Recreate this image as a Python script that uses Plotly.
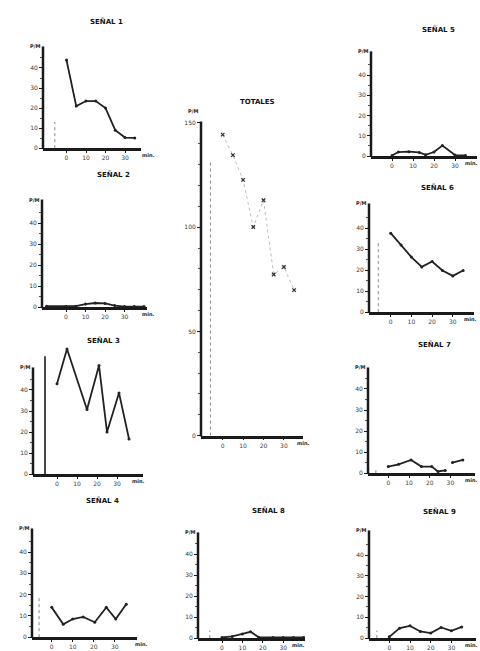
import plotly.graph_objects as go

W, H = 480, 651

# ---------------- data ----------------
titles = ["SEÑAL 1", "SEÑAL 2", "SEÑAL 3", "SEÑAL 4", "TOTALES",
          "SEÑAL 5", "SEÑAL 6", "SEÑAL 7", "SEÑAL 8", "SEÑAL 9"]

t_std = [0, 5, 10, 15, 20, 25, 30, 35]

s1_x = t_std
s1_y = [44, 21, 23.5, 23.5, 20, 9, 5.3, 5.1]

s2_x = [-10, 0, 5, 10, 15, 20, 25, 30, 35, 40]
s2_y = [0.5, 0.3, 0.5, 1.5, 2.0, 1.8, 0.8, 0.3, 0.3, 0.3]

s3_x = [0, 5, 15, 21, 25, 31, 36]
s3_y = [43, 59.5, 30.7, 51.6, 20, 38.6, 16.7]

s4_x = [0, 5.5, 10, 15, 20.5, 26, 30.5, 35.5]
s4_y = [14, 6, 8.5, 9.5, 7, 14, 8.5, 15.5]

tot_x = t_std
tot_y = [144.4, 134.6, 122.7, 100.1, 112.9, 77.3, 80.9, 69.8]

s5_x = [0, 3, 8, 13, 16, 20, 24, 30, 35]
s5_y = [0.3, 2.0, 2.2, 1.8, 0.6, 2.0, 5.2, 0.5, 0.3]

s6_x = t_std
s6_y = [37.7, 32.1, 26.3, 21.6, 24.2, 19.9, 17.3, 19.9]

s7_x = [0, 5, 11, 16, 21, 24, 27.5, 29, 31, 36]
s7_y = [3.1, 4.2, 6.3, 3.1, 3.1, 0.8, 1.3, None, 5.0, 6.3]

s8_x = [0, 5, 10, 14, 18, 25, 30, 35, 40]
s8_y = [0.3, 0.8, 2.0, 3.0, 0.4, 0.3, 0.3, 0.3, 0.3]

s9_x = t_std
s9_y = [0.6, 4.8, 5.9, 3.2, 2.4, 5.1, 3.5, 5.4]

series_x = [s1_x, s2_x, s3_x, s4_x, tot_x, s5_x, s6_x, s7_x, s8_x, s9_x]
series_y = [s1_y, s2_y, s3_y, s4_y, tot_y, s5_y, s6_y, s7_y, s8_y, s9_y]

# reference (start) marker: time and height per panel (None = not drawn)
ref_t = -6
ref_h = [13, None, 56, 19, 131, None, 34, 2.5, 3.6, 3.6]

y_ticks_small = [0, 10, 20, 30, 40]
y_minor_small = [5, 15, 25, 35, 45]
y_ticks_total = [0, 50, 100, 150]
y_minor_total = [10, 20, 30, 40, 60, 70, 80, 90, 110, 120, 130, 140]
x_ticks = [0, 10, 20, 30]

# ---------------- layout geometry (pixels) ----------------
# L,R: x-axis extent; X0: pixel of t=0; sx: px/min; B: x-axis pixel row;
# T: plot top; sy: px/unit; LT: top of drawn y-axis line; PY: P/M label row;
# MX: "min." label centre; tx,ty: title centre
geo = [
    dict(L=43, R=141, X0=66.5, sx=1.95, B=148, T=45, sy=2.03, LT=45, PY=45, MX=148, tx=106, ty=20),
    dict(L=42, R=147, X0=66, sx=1.95, B=309, T=200, sy=2.13, LT=200, PY=200, MX=148, tx=113, ty=175),
    dict(L=33, R=143, X0=57, sx=2.0, B=478, T=346, sy=2.13, LT=370, PY=370, MX=138, tx=103, ty=343),
    dict(L=32, R=137, X0=51.7, sx=2.1, B=643, T=533, sy=2.15, LT=533, PY=533, MX=141, tx=102, ty=505),
    dict(L=201, R=303, X0=222.7, sx=2.04, B=439, T=121, sy=2.11, LT=121, PY=110, MX=303, tx=257, ty=101),
    dict(L=371, R=477, X0=392, sx=2.1, B=156, T=50, sy=2.05, LT=50, PY=50, MX=471, tx=438, ty=28),
    dict(L=369, R=474, X0=390.7, sx=2.07, B=314, T=204, sy=2.12, LT=204, PY=204, MX=470, tx=437, ty=188),
    dict(L=368, R=475, X0=388.3, sx=2.07, B=477, T=370, sy=2.13, LT=370, PY=370, MX=471, tx=434, ty=347),
    dict(L=198, R=305, X0=222, sx=2.04, B=644, T=537, sy=2.12, LT=537, PY=537, MX=298, tx=268, ty=515),
    dict(L=369, R=476, X0=389.3, sx=2.07, B=644, T=535, sy=2.1, LT=535, PY=535, MX=471, tx=439, ty=516),
]

FONT = "DejaVu Sans"
INK = "#1a1a1a"

fig = go.Figure()
layout = {}
shapes = []
annotations = []

for i, g in enumerate(geo):
    k = i + 1
    xn = "xaxis" if k == 1 else f"xaxis{k}"
    yn = "yaxis" if k == 1 else f"yaxis{k}"
    xr = f"x{k}" if k > 1 else "x"
    yr = f"y{k}" if k > 1 else "y"
    is_tot = titles[i] == "TOTALES"

    xrange = [(g["L"] - g["X0"]) / g["sx"], (g["R"] - g["X0"]) / g["sx"]]
    yrange = [0, (g["B"] - g["T"]) / g["sy"]]

    layout[xn] = dict(
        domain=[g["L"] / W, g["R"] / W], range=xrange, anchor=yr,
        showgrid=False, zeroline=False, showline=True, linecolor=INK, linewidth=2.5,
        ticks="outside", ticklen=2, tickwidth=1, tickcolor=INK,
        tickvals=x_ticks, ticktext=[str(v) for v in x_ticks],
        tickfont=dict(family=FONT, size=6, color="#444"), fixedrange=True,
    )
    yt = y_ticks_total if is_tot else y_ticks_small
    ym = y_minor_total if is_tot else y_minor_small
    layout[yn] = dict(
        domain=[1 - g["B"] / H, 1 - g["T"] / H], range=yrange, anchor=xr,
        showgrid=False, zeroline=False, showline=False,
        ticks="outside", ticklen=3, tickwidth=1.2, tickcolor=INK,
        tickvals=yt, ticktext=[str(v) for v in yt],
        tickfont=dict(family=FONT, size=6, color="#333"), fixedrange=True,
        minor=dict(tickmode="array", tickvals=ym, ticks="outside", ticklen=2,
                   tickcolor="#555", tickwidth=0.8),
    )

    # y-axis line (drawn in paper coordinates so it can stop at the axis top)
    shapes.append(dict(type="line", xref="paper", yref="paper",
                       x0=g["L"] / W, x1=g["L"] / W,
                       y0=1 - (g["B"] + 1) / H, y1=1 - g["LT"] / H,
                       line=dict(color=INK, width=2.5)))

    # reference start marker
    if ref_h[i] is not None:
        dark = (i == 2)
        shapes.append(dict(type="line", xref=xr, yref=yr,
                           x0=ref_t, x1=ref_t, y0=0, y1=ref_h[i],
                           line=dict(color=INK if dark else "#888",
                                     width=1.6 if dark else 1,
                                     dash="solid" if dark else "dot")))

    # data
    if is_tot:
        fig.add_trace(go.Scatter(
            x=series_x[i], y=series_y[i], xaxis=xr, yaxis=yr, mode="lines+markers",
            line=dict(color="#bbbbbb", width=1, dash="dot"),
            marker=dict(color="#333", size=3.5, symbol="x-thin",
                        line=dict(color="#333", width=1.3)),
            showlegend=False, hoverinfo="skip"))
    else:
        fig.add_trace(go.Scatter(
            x=series_x[i], y=series_y[i], xaxis=xr, yaxis=yr, mode="lines+markers",
            line=dict(color="#222", width=1.8), connectgaps=False,
            marker=dict(color="#222", size=3),
            showlegend=False, hoverinfo="skip"))

    # title
    annotations.append(dict(text="<b>" + titles[i] + "</b>", xref="paper", yref="paper",
                            x=g["tx"] / W, y=1 - g["ty"] / H, showarrow=False,
                            xanchor="center", yanchor="middle",
                            font=dict(family=FONT, size=7, color="#111")))
    # P/M label
    annotations.append(dict(text="<b>P/M</b>", xref="paper", yref="paper",
                            x=(g["L"] - 1) / W, y=1 - g["PY"] / H, showarrow=False,
                            xanchor="right", yanchor="middle",
                            font=dict(family=FONT, size=5, color="#222")))
    # min. label
    annotations.append(dict(text="<b>min.</b>", xref="paper", yref="paper",
                            x=g["MX"] / W, y=1 - (g["B"] + 7) / H, showarrow=False,
                            xanchor="center", yanchor="middle",
                            font=dict(family=FONT, size=5, color="#222")))

fig.update_layout(
    width=W, height=H, margin=dict(l=0, r=0, t=0, b=0),
    paper_bgcolor="white", plot_bgcolor="white",
    shapes=shapes, annotations=annotations, **layout,
)

fig.write_html(
    "out.html", config={"displayModeBar": False},
    post_script="document.body.style.margin='0';document.body.style.overflow='hidden';"
)
